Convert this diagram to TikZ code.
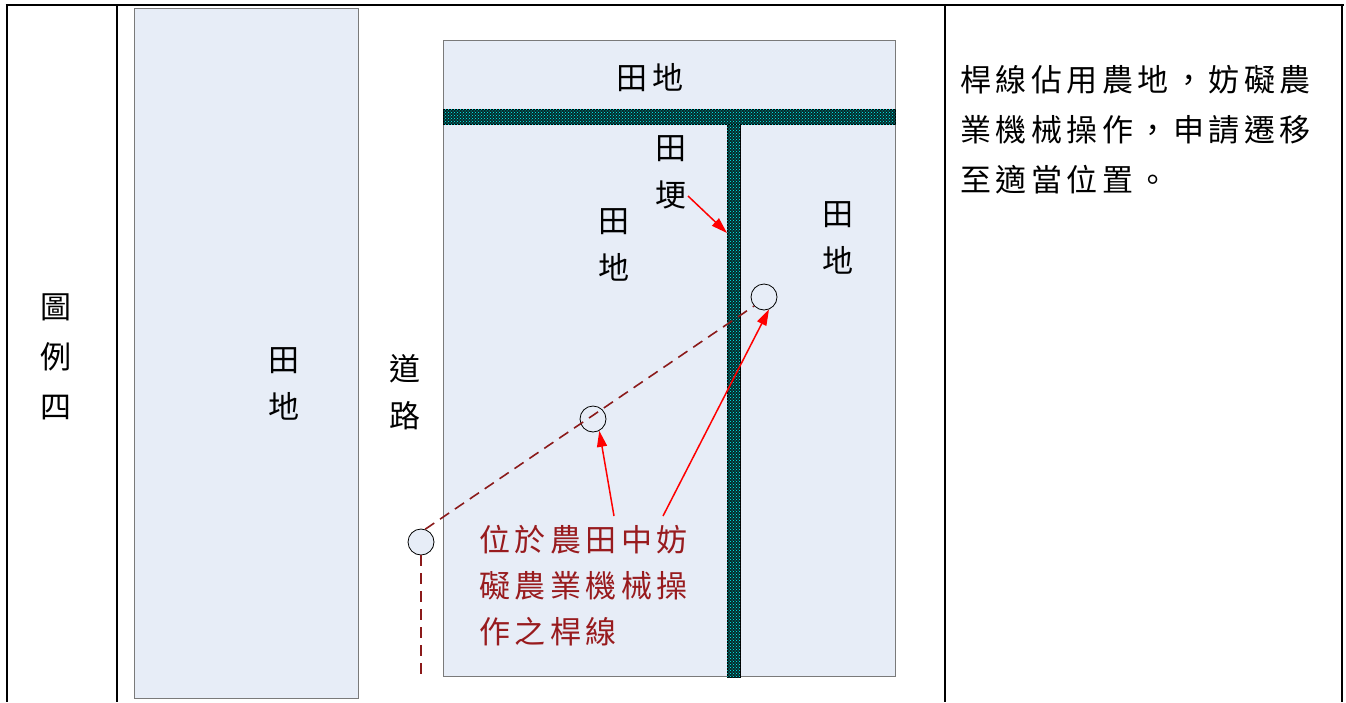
\documentclass[tikz,border=0pt]{standalone}
\usepackage{fontspec}
\newfontfamily\cjk{Noto Sans CJK TC}
\usetikzlibrary{arrows.meta,patterns}
\definecolor{fieldfill}{HTML}{E7EDF7}
\definecolor{boxedge}{HTML}{7A7A7A}
\definecolor{darkred}{HTML}{981B1E}
\definecolor{lineRed}{HTML}{8B1A1A}
\definecolor{ridge}{HTML}{052A2A}
\newlength\cjpitch
\setlength\cjpitch{35.5pt}
\def\cjloop#1{\ifx\relax#1\else\makebox[\cjpitch]{#1}\expandafter\cjloop\fi}
\newcommand\cjline[1]{\cjloop#1\relax}
\begin{document}
\begin{tikzpicture}[x=1pt,y=-1pt,
  tableline/.style={line width=2.6pt, black},
  field/.style={draw=boxedge, line width=1.4pt, fill=fieldfill, inner sep=0pt, anchor=north west},
  ridgeband/.style={draw=black, line width=0.8pt, fill=ridge, inner sep=0pt, anchor=north west,
    postaction={pattern=crosshatch dots, pattern color=cyan}},
  lbl/.style={font=\cjk\fontsize{31}{47}\selectfont, align=center, inner sep=0pt},
  redlbl/.style={font=\cjk\fontsize{31}{46}\selectfont, align=left, inner sep=0pt, text=darkred},
  pole/.style={circle, draw=black, line width=0.8pt, minimum size=26pt, inner sep=0pt},
  poleline/.style={draw=lineRed, line width=1.6pt, dash pattern=on 11pt off 7pt},
  redarrow/.style={draw=red, line width=1.5pt, -{Triangle[length=16pt,width=10pt]}}]
\useasboundingbox (0,0) rectangle (1346,702);
\fill[white] (0,0) rectangle (1346,702);
% table
\draw[tableline] (5.7,5) -- (1344.3,5);
\draw[tableline] (7,5) -- (7,702);
\draw[tableline] (117,5) -- (117,702);
\draw[tableline] (945,5) -- (945,702);
\draw[tableline] (1342,5) -- (1342,702);
% fields
\node[field, minimum width=224pt, minimum height=690pt] (leftfield) at (134,8) {};
\node[field, minimum width=452pt, minimum height=636pt] (rightfield) at (443,40) {};
\node[ridgeband, minimum width=452pt, minimum height=15pt] (hband) at (443,109) {};
\node[ridgeband, minimum width=13pt, minimum height=553pt] (vband) at (727,124) {};
% labels
\node[lbl] (legend) at (56,357) {圖\\[3pt]例\\[3pt]四};
\node[lbl] (lftxt) at (284,384) {田\\地};
\node[lbl] (road) at (405,392) {道\\路};
\node[lbl] (toptxt) at (650,78) {\cjline{田地}};
\node[lbl] (geng) at (671,172) {田\\埂};
\node[lbl] (midtxt) at (614,245) {田\\地};
\node[lbl] (rtxt) at (838,238) {田\\地};
\node[redlbl, anchor=west] (note) at (477,586) {\cjline{位於農田中妨}\\\cjline{礙農業機械操}\\\cjline{作之桿線}};
\node[font=\cjk\fontsize{31}{50}\selectfont, align=left, inner sep=0pt, anchor=west] (desc) at (958,130)
  {\cjline{桿線佔用農地，妨礙農}\\\cjline{業機械操作，申請遷移}\\\cjline{至適當位置。}};
% poles
\node[pole, fill=fieldfill] (c1) at (764,297) {};
\node[pole] (c2) at (593,419) {};
\node[pole, fill=fieldfill] (c3) at (421,542) {};
\coordinate (lineend) at (421,676);
\draw[poleline] (c3.72) -- (c1.222);
\draw[poleline] (c3.south) -- (lineend);
% arrows
\coordinate (gengtip) at (688,196);
\coordinate (ridgehit) at (727,233);
\draw[redarrow] (gengtip) -- (ridgehit);
\coordinate (a1) at (614,516);
\coordinate (a2) at (663,516);
\draw[redarrow] (a1) -- (c2.-62);
\draw[redarrow] (a2) -- (c1.-68);
\end{tikzpicture}
\end{document}
